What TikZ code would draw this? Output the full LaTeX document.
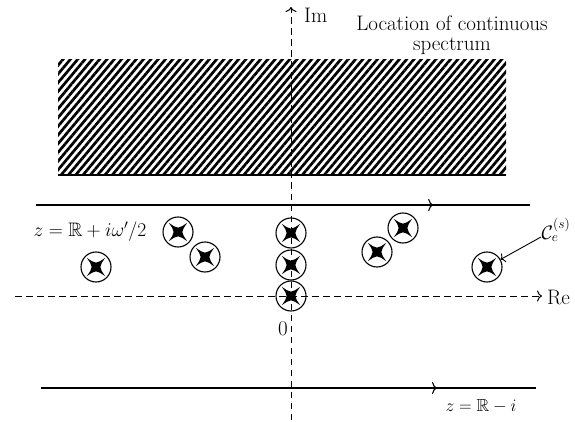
\documentclass[tikz,border=0pt]{standalone}
\usepackage{fix-cm}
\usepackage{amssymb}
\usepackage{fontspec}
\usetikzlibrary{arrows.meta,decorations.markings,patterns.meta}
\tikzset{
  lbl/.style={font=\fontsize{21}{22}\selectfont, inner sep=1pt},
  mlbl/.style={font=\fontsize{19.5}{22}\selectfont, inner sep=1pt},
  axisline/.style={line width=1pt, dash pattern=on 6.5pt off 4.5pt, -{To[length=5pt,width=11pt]}},
  contour/.style={line width=1.1pt, postaction={decorate}},
  marker/.style={circle, draw, line width=1.1pt, minimum size=30pt, inner sep=0pt,
    path picture={\fill[shift={(path picture bounding box.center)}]
      (45:13pt) .. controls (90:2.8pt) .. (135:13pt) .. controls (180:2.8pt) .. (225:13pt)
      .. controls (270:2.8pt) .. (315:13pt) .. controls (0:2.8pt) .. cycle;}},
  hatch/.style={pattern={Lines[angle=50,distance=5.6pt,line width=2.7pt]}},
}
\begin{document}
\begin{tikzpicture}[x=1pt,y=-1pt]
\useasboundingbox (0,0) rectangle (575,422);
% hatched region
\fill[hatch] (58,60) rectangle (506,175);
\draw[line width=2pt] (58,175) -- (506,175);
% axes
\coordinate (reS) at (15,296);
\coordinate (reE) at (542,296);
\coordinate (imS) at (291,420);
\coordinate (imE) at (291,7);
\draw[axisline] (reS) -- (reE);
\draw[axisline] (imS) -- (imE);
% contours
\coordinate (t1) at (36,205);
\coordinate (t2) at (530,205);
\coordinate (b1) at (41,388);
\coordinate (b2) at (536,388);
\draw[contour, decoration={markings, mark=at position 0.804 with {\arrow{To[length=5pt,width=12pt]}}}] (t1) -- (t2);
\draw[contour, decoration={markings, mark=at position 0.8 with {\arrow{To[length=5pt,width=12pt]}}}] (b1) -- (b2);
% markers
\node[marker] (m1) at (96,267) {};
\node[marker] (m2) at (178,232) {};
\node[marker] (m3) at (205,257) {};
\node[marker] (m4) at (291,233) {};
\node[marker] (m5) at (291,265) {};
\node[marker] (m6) at (291,296) {};
\node[marker] (m7) at (377,252) {};
\node[marker] (m8) at (403,228) {};
\node[marker] (m9) at (487,267) {};
% labels
\node[lbl, anchor=west] (im) at (303,15) {Im};
\node[lbl, anchor=west] (re) at (546,297) {Re};
\node[lbl] (zero) at (283,329) {0};
\node[lbl, align=center] (loc) at (452,35) {Location of continuous\\[-2pt]spectrum};
\node[mlbl] (zup) at (90,232) {$z=\mathbb{R}+i\omega'/2$};
\node[mlbl, font=\fontsize{17.5}{20}\selectfont] (zdn) at (481,406) {$z=\mathbb{R}-i$};
\node[mlbl, inner sep=0pt] (cl) at (556,230) {$\mathcal{C}_e^{(s)}$};
\coordinate (clfoot) at (541,237);
\draw[line width=0.9pt, -{To[length=4pt,width=10pt]}] (clfoot) -- (m9);
\end{tikzpicture}
\end{document}
